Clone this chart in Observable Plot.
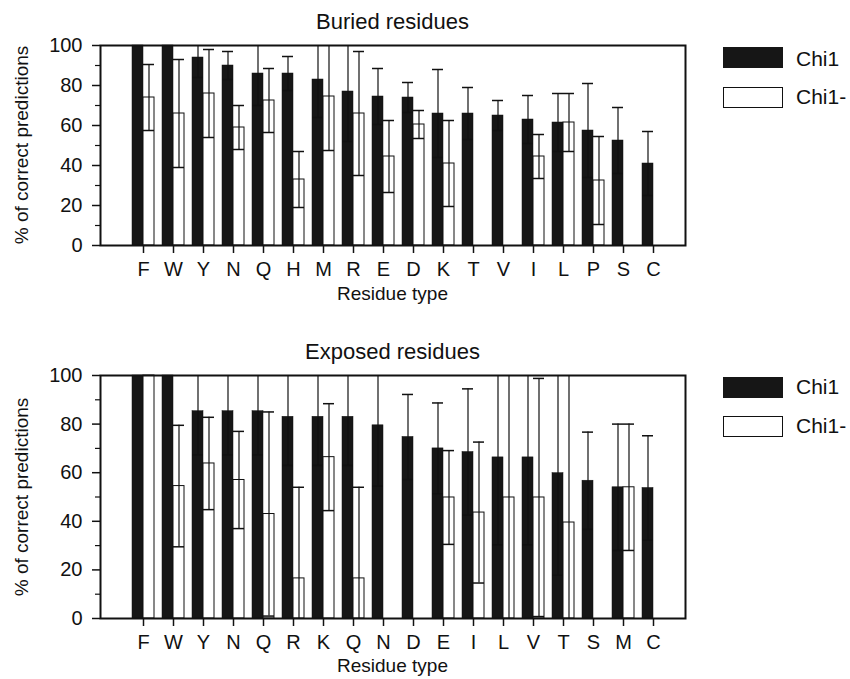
<!DOCTYPE html>
<html>
<head>
<meta charset="utf-8">
<script src="https://cdn.jsdelivr.net/npm/d3@7"></script>
<script src="https://cdn.jsdelivr.net/npm/@observablehq/plot@0.6"></script>
<style>
  html, body { margin: 0; padding: 0; background: #fff; }
  #wrap { position: relative; width: 850px; height: 679px; overflow: hidden; font-family: 'Liberation Sans', Arial, Helvetica, sans-serif; color: #111; }
  .abs { position: absolute; line-height: 1; white-space: nowrap; }
  .title { font-size: 22px; left: 100px; width: 585px; text-align: center; }
  .xlab { font-size: 19px; left: 100px; width: 585px; text-align: center; }
  .ylab { font-size: 19px; transform: translate(-50%, -50%) rotate(-90deg); }
  .sw { position: absolute; width: 60px; height: 21px; box-sizing: border-box; }
  .lt { font-size: 21px; }
</style>
</head>
<body>
<div id="wrap">
  <div class="abs title" style="top:11px">Buried residues</div>
  <div class="abs title" style="top:341px">Exposed residues</div>
  <div id="p1" style="position:absolute;left:0;top:30px"></div>
  <div id="p2" style="position:absolute;left:0;top:360px"></div>
  <div class="abs ylab" style="left:21px;top:145px">% of correct predictions</div>
  <div class="abs ylab" style="left:21px;top:497px">% of correct predictions</div>
  <div class="abs xlab" style="top:284px">Residue type</div>
  <div class="abs xlab" style="top:656px">Residue type</div>

  <div class="sw" style="left:723px;top:47px;background:#161616"></div>
  <div class="abs lt" style="left:796px;top:48px">Chi1</div>
  <div class="sw" style="left:723px;top:87px;background:#fff;border:1px solid #111"></div>
  <div class="abs lt" style="left:796px;top:86px">Chi1-</div>

  <div class="sw" style="left:723px;top:377px;background:#161616"></div>
  <div class="abs lt" style="left:796px;top:376px">Chi1</div>
  <div class="sw" style="left:723px;top:416px;background:#fff;border:1px solid #111"></div>
  <div class="abs lt" style="left:796px;top:415px">Chi1-</div>
</div>
<script>
// ---- Buried residues ----
const buriedCats = ["F","W","Y","N","Q","H","M","R","E","D","K","T","V","I","L","P","S","C"];
const buriedChi1 = [100, 100, 94, 90, 86, 86, 83, 77, 74.5, 74, 66, 66, 65, 63, 61.5, 57.5, 52.5, 41];
const buriedChi1Err = [null, null, 10, 7, 16, 8.5, 19, 25, 14, 7.5, 22, 13, 7.5, 12, 14.5, 23.5, 16.5, 16];
const buriedChi12 = [74, 66, 76, 59, 72.5, 33, 74.5, 66, 44.5, 60.5, 41, null, null, 44.5, 61.5, 32.5, null, null];
const buriedChi12Err = [16.5, 27, 22, 11, 16, 14, 27, 31, 18, 7, 21.5, null, null, 11, 14.5, 22, null, null];

// ---- Exposed residues ----
const exposedCats = ["F","W","Y","N","Q","R","K","Q","N","D","E","I","L","V","T","S","M","C"];
const exposedChi1 = [100, 100, 85.3, 85.3, 85.3, 83, 83, 83, 79.5, 74.7, 70, 68.5, 66.3, 66.3, 59.8, 56.7, 54, 53.7];
const exposedChi1Err = [null, null, 18, 18, 18, 20, 20, 20, 25, 17.5, 18.7, 26, 36, 36, 42, 20, 26, 21.5];
const exposedChi12 = [100, 54.5, 63.8, 57, 43, 16.5, 66.4, 16.5, null, null, 49.8, 43.6, 49.8, 49.8, 39.5, null, 54, null];
const exposedChi12Err = [null, 25, 19, 20, 42, 37.5, 22, 37.5, null, null, 19.3, 29, 52, 49, 62, null, 26, null];

const majorTicks = [0, 20, 40, 60, 80, 100];
const minorTicks = [10, 30, 50, 70, 90];

function chart(cats, a, aErr, b, bErr, height, marginBottom) {
  const rows = cats.map((c, i) => ({i, a: a[i], ae: aErr[i], b: b[i], be: bErr[i]}));
  const aBars = rows.filter(r => r.a != null);
  const bBars = rows.filter(r => r.b != null);
  const aErrs = rows.filter(r => r.a != null && r.ae != null);
  const bErrs = rows.filter(r => r.b != null && r.be != null);
  const half = 11;
  return Plot.plot({
    width: 700,
    height,
    marginLeft: 100,
    marginRight: 15,
    marginTop: 15,
    marginBottom,
    style: {font: "20px 'Liberation Sans', Arial, Helvetica, sans-serif", color: "#111", background: "transparent", overflow: "visible"},
    x: {type: "band", domain: d3.range(cats.length), range: [116.9, 678.1], padding: 0.28, label: null},
    y: {domain: [0, 100], label: null},
    marks: [
      Plot.barY(aBars, {x: "i", y: "a", fill: "#161616", stroke: "#111", strokeWidth: 0.5, insetRight: half}),
      Plot.barY(bBars, {x: "i", y: "b", fill: "#fff", stroke: "#111", strokeWidth: 1, insetLeft: half}),
      Plot.ruleX(aErrs, {x: "i", y1: d => d.a - d.ae, y2: d => d.a + d.ae, dx: -half / 2, stroke: "#111", strokeWidth: 1.2, clip: true}),
      Plot.tickY(aErrs, {x: "i", y: d => d.a + d.ae, insetRight: half, stroke: "#111", strokeWidth: 1.5, clip: true}),
      Plot.tickY(aErrs, {x: "i", y: d => d.a - d.ae, insetRight: half, stroke: "#111", strokeWidth: 1.5, clip: true}),
      Plot.ruleX(bErrs, {x: "i", y1: d => d.b - d.be, y2: d => d.b + d.be, dx: half / 2, stroke: "#111", strokeWidth: 1.2, clip: true}),
      Plot.tickY(bErrs, {x: "i", y: d => d.b + d.be, insetLeft: half, stroke: "#111", strokeWidth: 1.5, clip: true}),
      Plot.tickY(bErrs, {x: "i", y: d => d.b - d.be, insetLeft: half, stroke: "#111", strokeWidth: 1.5, clip: true}),
      Plot.frame({stroke: "#111", strokeWidth: 2}),
      Plot.axisY({ticks: majorTicks, tickSize: 8, tickPadding: 10, strokeWidth: 1.5, tickFormat: d => String(d)}),
      Plot.axisY({ticks: minorTicks, tickSize: 5, strokeWidth: 1.2, tickFormat: () => ""}),
      Plot.axisX({tickSize: 8, tickPadding: 8, strokeWidth: 1.5, tickFormat: i => cats[i]})
    ]
  });
}

document.getElementById("p1").append(chart(buriedCats, buriedChi1, buriedChi1Err, buriedChi12, buriedChi12Err, 300, 85));
document.getElementById("p2").append(chart(exposedCats, exposedChi1, exposedChi1Err, exposedChi12, exposedChi12Err, 319, 61));
</script>
</body>
</html>
